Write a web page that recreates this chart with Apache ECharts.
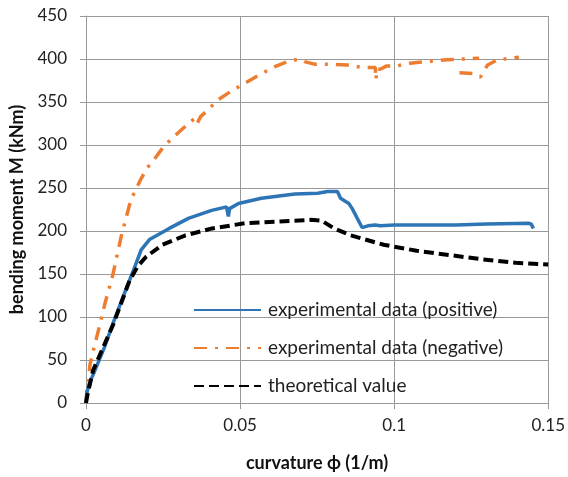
<!DOCTYPE html>
<html>
<head>
<meta charset="utf-8">
<script src="https://cdn.jsdelivr.net/npm/echarts@6/dist/echarts.min.js"></script>
<style>html,body{margin:0;padding:0;background:#fff;}#c{width:568px;height:477px;}</style>
</head>
<body>
<div id="c"></div>
<script>
var seriesNames = ['experimental data (positive)', 'experimental data (negative)', 'theoretical value'];
var xTicks = [0, 0.05, 0.1, 0.15];
var yTicks = [0, 50, 100, 150, 200, 250, 300, 350, 400, 450];

var positiveData = [
  [0,0],[0.0003,12],[0.001,22],[0.0029,38],[0.006,65],[0.009,95],[0.012,123],[0.0157,157],
  [0.0179,178],[0.0206,190],[0.027,203],[0.0334,215],[0.0408,224],[0.0456,228],[0.046,227],
  [0.0462,217],[0.0466,226],[0.0495,232],[0.0569,238],[0.0678,243],[0.0752,244],[0.0784,246],
  [0.0816,246],[0.0826,238],[0.0853,232],[0.0864,226],[0.088,215],[0.0896,204],[0.0915,206],
  [0.0938,207],[0.0955,206],[0.1,207],[0.11,207],[0.12,207],[0.13,208],[0.1436,209],
  [0.1445,208],[0.1452,203]
];
var negativeData = [
  [0,0],[0.0003,15],[0.0008,25],[0.0013,45],[0.003,70],[0.0045,91],[0.0061,115],[0.0087,149],
  [0.0115,195],[0.0141,230],[0.0152,241],[0.0179,261],[0.02,274],[0.0227,286],[0.0254,299],
  [0.0286,310],[0.0323,322],[0.0356,332],[0.0362,326],[0.0368,324],[0.0372,333],[0.0393,340],
  [0.043,353],[0.0473,363],[0.0516,372],[0.0564,382],[0.0613,391],[0.0655,397],[0.0693,400],
  [0.0709,397],[0.0741,394],[0.0784,394],[0.0848,393],[0.0902,390],[0.0939,390],[0.0941,376],
  [0.0945,389],[0.0955,388],[0.0976,392],[0.1009,392],[0.1051,395],[0.1105,397],[0.1169,399],
  [0.1223,400],[0.1276,401],[0.1276,'-'],
  [0.1212,384],[0.1255,383],[0.128,379],[0.1303,393],[0.1335,399],[0.1405,402]
];
var theoreticalData = [
  [0,0],[0.0005,10],[0.0023,38],[0.0088,91],[0.0141,142],[0.0168,159],[0.0195,170],
  [0.0248,184],[0.0323,195],[0.0409,203],[0.0516,209],[0.0623,211],[0.073,213],[0.0765,212],
  [0.0805,203],[0.0859,195],[0.0966,184],[0.1073,177],[0.118,172],[0.1287,167],[0.1394,163],
  [0.15,161]
];

var FONT = 'Lato, "Liberation Sans", sans-serif';
var GRID_COLOR = '#999';
var chart = echarts.init(document.getElementById('c'));
chart.setOption({
  animation: false,
  backgroundColor: '#fff',
  grid: {left: 86, right: 15, top: 16, bottom: 71},
  legend: {
    orient: 'vertical', left: 193, top: 300, padding: 0,
    itemWidth: 67, itemHeight: 14, itemGap: 18,
    itemStyle: {opacity: 0, borderWidth: 0},
    textStyle: {fontFamily: FONT, fontSize: 19, color: '#222', lineHeight: 20, padding: [0, 0, 0, 2]},
    data: seriesNames
  },
  xAxis: {
    type: 'value', min: xTicks[0], max: xTicks[xTicks.length-1], interval: 0.05,
    name: 'curvature \u03d5 (1/m)', nameLocation: 'middle', nameGap: 51,
    nameTextStyle: {fontFamily: FONT, fontSize: 18, fontWeight: 'bold', color: '#111'},
    axisLine: {show: true, lineStyle: {color: GRID_COLOR, width: 1}},
    axisTick: {show: true, length: 6, lineStyle: {color: GRID_COLOR}},
    axisLabel: {fontFamily: FONT, fontSize: 17, color: '#222', margin: 14},
    splitLine: {show: true, lineStyle: {color: GRID_COLOR, width: 1}}
  },
  yAxis: {
    type: 'value', min: yTicks[0], max: yTicks[yTicks.length-1], interval: 50,
    name: 'bending moment M (kNm)', nameLocation: 'middle', nameGap: 60, nameRotate: 90,
    nameTextStyle: {fontFamily: FONT, fontSize: 18, fontWeight: 'bold', color: '#111'},
    axisLine: {show: true, lineStyle: {color: GRID_COLOR, width: 1}},
    axisTick: {show: true, length: 6, lineStyle: {color: GRID_COLOR}},
    axisLabel: {fontFamily: FONT, fontSize: 17, color: '#222', margin: 19},
    splitLine: {show: true, lineStyle: {color: GRID_COLOR, width: 1}}
  },
  series: [
    {name: seriesNames[0], type: 'line', data: positiveData, symbol: 'none', z: 3,
     lineStyle: {color: '#2e75b6', width: 3.5, type: 'solid'}, itemStyle: {color: '#2e75b6'}},
    {name: seriesNames[1], type: 'line', data: negativeData, symbol: 'none', z: 2, connectNulls: false,
     lineStyle: {color: '#ed7d31', width: 3.5, type: [13, 8, 3, 8]}, itemStyle: {color: '#ed7d31'}},
    {name: seriesNames[2], type: 'line', data: theoreticalData, symbol: 'none', z: 4,
     lineStyle: {color: '#000', width: 4, type: [10, 5]}, itemStyle: {color: '#000'}}
  ]
});
</script>
</body>
</html>
